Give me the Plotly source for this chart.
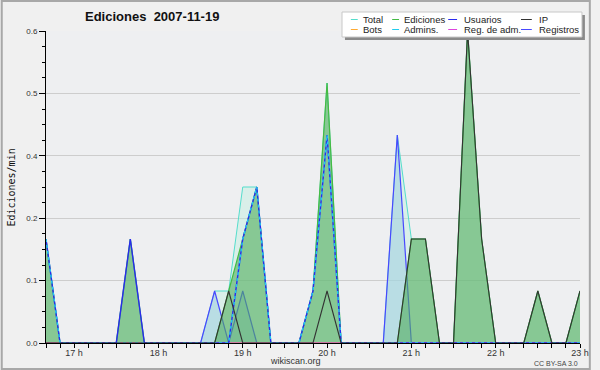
import plotly.graph_objects as go

DAY = "2007-11-19"
times = ["16:40", "16:50", "17:00", "17:10", "17:20", "17:30", "17:40", "17:50",
         "18:00", "18:10", "18:20", "18:30", "18:40", "18:50", "19:00", "19:10",
         "19:20", "19:30", "19:40", "19:50", "20:00", "20:10", "20:20", "20:30",
         "20:40", "20:50", "21:00", "21:10", "21:20", "21:30", "21:40", "21:50",
         "22:00", "22:10", "22:20", "22:30", "22:40", "22:50", "23:00"]

total     = [0.2, 0, 0, 0, 0, 0, 0.2, 0, 0, 0, 0, 0, 0.1, 0.1, 0.3, 0.3, 0, 0, 0, 0.1,
             0.5, 0, 0, 0, 0, 0.4, 0.2, 0.2, 0, 0, 0.6, 0.2, 0, 0, 0, 0.1, 0, 0, 0.1]
bots      = [0] * 39
ediciones = [0.2, 0, 0, 0, 0, 0, 0.2, 0, 0, 0, 0, 0, 0, 0.1, 0.2, 0.3, 0, 0, 0, 0.1,
             0.5, 0, 0, 0, 0, 0, 0.2, 0.2, 0, 0, 0.6, 0.2, 0, 0, 0, 0.1, 0, 0, 0.1]
admins    = [0.2, 0, 0, 0, 0, 0, 0, 0, 0, 0, 0, 0, 0, 0, 0.2, 0.3, 0, 0, 0, 0.1,
             0.4, 0, 0, 0, 0, 0, 0, 0, 0, 0, 0, 0, 0, 0, 0, 0, 0, 0, 0]
usuarios  = [0.2, 0, 0, 0, 0, 0, 0.2, 0, 0, 0, 0, 0, 0, 0, 0.2, 0.3, 0, 0, 0, 0.1,
             0.4, 0, 0, 0, 0, 0, 0, 0, 0, 0, 0, 0, 0, 0, 0, 0, 0, 0, 0]
reg_adm   = [0] * 39
ip        = [0, 0, 0, 0, 0, 0, 0, 0, 0, 0, 0, 0, 0, 0.1, 0, 0, 0, 0, 0, 0,
             0.1, 0, 0, 0, 0, 0, 0.2, 0.2, 0, 0, 0.6, 0.2, 0, 0, 0, 0.1, 0, 0, 0.1]
registros = [0, 0, 0, 0, 0, 0, 0, 0, 0, 0, 0, 0, 0.1, 0, 0.1, 0, 0, 0, 0, 0,
             0, 0, 0, 0, 0, 0.4, 0, 0, 0, 0, 0, 0, 0, 0, 0, 0, 0, 0, 0]

hour_ticks = ["17:00", "18:00", "19:00", "20:00", "21:00", "22:00", "23:00"]
hour_labels = ["17 h", "18 h", "19 h", "20 h", "21 h", "22 h", "23 h"]
y_ticks = [0, 0.12, 0.24, 0.36, 0.48, 0.6]
y_labels = ["0.0", "0.1", "0.2", "0.4", "0.5", "0.6"]

x = [f"{DAY} {t}" for t in times]

C_TOTAL = "#55ddcc"
C_BOTS = "#ffaa33"
C_EDIC = "#44bb44"
C_ADM = "#22ccee"
C_USR = "#2a2aee"
C_REGADM = "#dd44dd"
C_IP = "#333333"
C_REG = "#4848ff"

fig = go.Figure()
fig.add_trace(go.Scatter(x=x, y=total, mode="lines", name="Total", fill="tozeroy",
                         fillcolor="rgba(185,239,223,0.4)", line=dict(color=C_TOTAL, width=1)))
fig.add_trace(go.Scatter(x=x, y=registros, mode="lines", name="Registros", fill="tozeroy",
                         fillcolor="rgba(154,203,223,0.5)", line=dict(color=C_REG, width=1.2)))
fig.add_trace(go.Scatter(x=x, y=ediciones, mode="lines", name="Ediciones", fill="tozeroy",
                         fillcolor="rgba(80,173,91,0.6)", line=dict(color=C_EDIC, width=1.2)))
fig.add_trace(go.Scatter(x=x, y=bots, mode="lines", name="Bots", line=dict(color=C_BOTS, width=1)))
fig.add_trace(go.Scatter(x=x, y=reg_adm, mode="lines", name="Reg. de adm.", line=dict(color=C_REGADM, width=1)))
fig.add_trace(go.Scatter(x=x, y=usuarios, mode="lines", name="Usuarios", line=dict(color=C_USR, width=1.4)))
fig.add_trace(go.Scatter(x=x, y=admins, mode="lines", name="Admins.",
                         line=dict(color=C_ADM, width=1.4, dash="3px,3px")))
fig.add_trace(go.Scatter(x=x, y=ip, mode="lines", name="IP", line=dict(color=C_IP, width=1.1)))

L, R, T, B = 46, 589, 31, 343
W, H = 600, 370


def px(xp):
    return (xp - L) / (R - L)


def py(yp):
    return (B - yp) / (B - T)


shapes = []
annotations = []

# outer border
shapes.append(dict(type="rect", xref="paper", yref="paper", x0=px(1), x1=px(599), y0=py(1), y1=py(369),
                   line=dict(color="#a8a8a8", width=2), fillcolor="rgba(0,0,0,0)", layer="below"))

# legend box with shadow
shapes.append(dict(type="rect", xref="paper", yref="paper", x0=px(350), x1=px(594), y0=py(15), y1=py(40),
                   line=dict(width=0), fillcolor="#8a8a8a"))
shapes.append(dict(type="rect", xref="paper", yref="paper", x0=px(347), x1=px(591), y0=py(12), y1=py(37),
                   line=dict(color="#c8c8c8", width=1), fillcolor="white"))

legend_items = [
    ("Total", C_TOTAL, 356, 363, 366, 19.5),
    ("Ediciones", C_EDIC, 398, 405, 408, 19.5),
    ("Usuarios", C_USR, 455, 464, 469, 19.5),
    ("IP", C_IP, 529, 540, 545, 19.5),
    ("Bots", C_BOTS, 356, 363, 366, 29.5),
    ("Admins.", C_ADM, 398, 405, 408, 29.5),
    ("Reg. de adm.", C_REGADM, 455, 464, 469, 29.5),
    ("Registros", C_REG, 529, 540, 545, 29.5),
]
for name, col, lx0, lx1, tx, yy in legend_items:
    shapes.append(dict(type="line", xref="paper", yref="paper", x0=px(lx0), x1=px(lx1),
                       y0=py(yy), y1=py(yy), line=dict(color=col, width=1)))
    annotations.append(dict(text=name, xref="paper", yref="paper", x=px(tx), y=py(yy),
                            xanchor="left", yanchor="middle", showarrow=False,
                            font=dict(family="Liberation Sans", size=9.5, color="#222")))

annotations.append(dict(text="<b>Ediciones  2007-11-19</b>", xref="paper", yref="paper",
                        x=px(154), y=py(17), xanchor="center", yanchor="middle", showarrow=False,
                        font=dict(family="Liberation Sans", size=13, color="#111")))
annotations.append(dict(text="Ediciones/min", xref="paper", yref="paper", x=px(10), y=py(188),
                        xanchor="center", yanchor="middle", showarrow=False, textangle=-90,
                        font=dict(family="DejaVu Sans Mono", size=10, color="#111")))
annotations.append(dict(text="wikiscan.org", xref="paper", yref="paper", x=px(300), y=py(361),
                        xanchor="center", yanchor="middle", showarrow=False,
                        font=dict(family="Liberation Sans", size=9, color="#333")))
annotations.append(dict(text="CC BY-SA 3.0", xref="paper", yref="paper", x=px(589), y=py(363),
                        xanchor="right", yanchor="middle", showarrow=False,
                        font=dict(family="Liberation Sans", size=7, color="#444")))

minor_x = [f"{DAY} {t}" for t in times]
minor_y = [round(0.03 * k, 2) for k in range(21)]

fig.update_layout(
    width=W, height=H,
    margin=dict(l=L, r=W - R, t=T, b=H - B, pad=0),
    paper_bgcolor="#f0f0f0",
    plot_bgcolor="#eeeff1",
    showlegend=False,
    shapes=shapes,
    annotations=annotations,
    xaxis=dict(
        type="date",
        range=[f"{DAY} 16:40", f"{DAY} 23:00"],
        tickmode="array",
        tickvals=[f"{DAY} {t}" for t in hour_ticks],
        ticktext=hour_labels,
        ticks="outside", ticklen=4, tickcolor="#000", tickwidth=1,
        showline=True, linecolor="#000", linewidth=1,
        showgrid=False, zeroline=False,
        tickfont=dict(family="Liberation Sans", size=9, color="#333"),
        ticklabelstandoff=-3,
        minor=dict(tickmode="array", tickvals=minor_x, ticks="outside", ticklen=4,
                   tickcolor="#000", showgrid=False),
        fixedrange=True,
    ),
    yaxis=dict(
        range=[0, 0.6],
        tickmode="array",
        tickvals=y_ticks,
        ticktext=y_labels,
        ticks="outside", ticklen=6, tickcolor="#000", tickwidth=1,
        showline=True, linecolor="#000", linewidth=1,
        showgrid=True, gridcolor="#cdcdcd", gridwidth=1,
        zeroline=False,
        tickfont=dict(family="Liberation Sans", size=8, color="#333"),
        ticklabelstandoff=0,
        minor=dict(tickmode="array", tickvals=minor_y, ticks="outside", ticklen=3,
                   tickcolor="#000", showgrid=False),
        fixedrange=True,
    ),
)

fig.write_html("out.html", config={"displayModeBar": False},
               post_script="document.body.style.margin='0';document.body.style.padding='0';")
